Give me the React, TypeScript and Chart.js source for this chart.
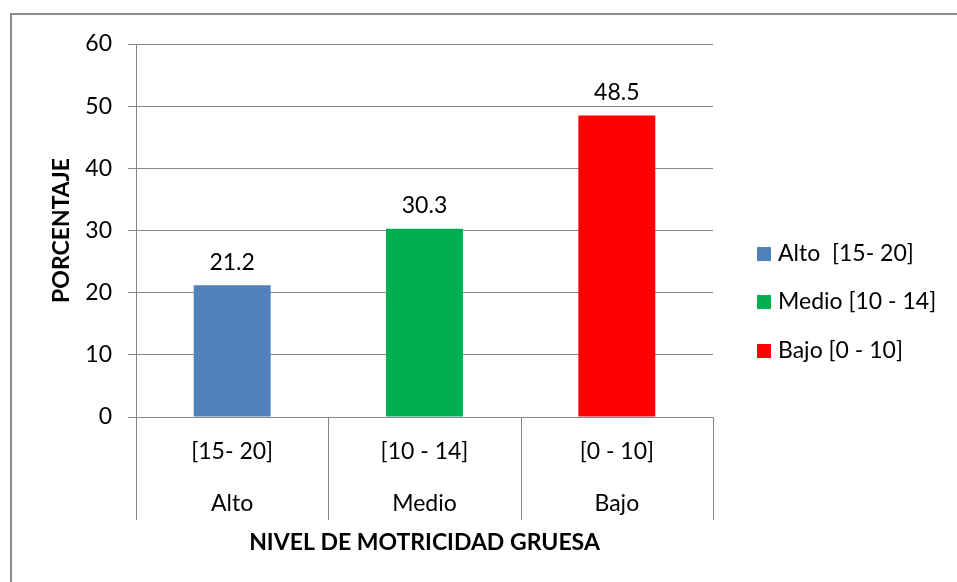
import React, { useEffect, useRef } from "react";
import { Chart, registerables } from "chart.js";
Chart.register(...registerables);

const categories = ["[15- 20]", "[10 - 14]", "[0 - 10]"];
const levels = ["Alto", "Medio", "Bajo"];
const values = [21.2, 30.3, 48.5];
const legendLabels = ["Alto  [15- 20]", "Medio [10 - 14]", "Bajo [0 - 10]"];
const colors = ["#4F81BD", "#00B050", "#FF0000"];
const yMin = 0;
const yMax = 60;
const yStep = 10;
const xTitle = "NIVEL DE MOTRICIDAD GRUESA";
const yTitle = "PORCENTAJE";

const FAMILY = "Lato, 'Open Sans', sans-serif";
const GRID = "#868686";
const FS = 23;

const customPlugin = {
  id: "custom",
  afterDraw(chart: any) {
    const ctx = chart.ctx;
    const x = chart.scales.x;
    const y = chart.scales.y;
    const y0 = y.getPixelForValue(0);
    ctx.save();
    // outer border
    ctx.strokeStyle = "#8c8c8c";
    ctx.lineWidth = 2;
    ctx.beginPath();
    ctx.moveTo(11, 582);
    ctx.lineTo(11, 14);
    ctx.lineTo(957, 14);
    ctx.stroke();
    // category separators
    ctx.strokeStyle = GRID;
    ctx.lineWidth = 1;
    const n = categories.length;
    const step = x.width / n;
    for (let i = 0; i <= n; i++) {
      const px = Math.round(x.left + i * step) + 0.5;
      ctx.beginPath();
      ctx.moveTo(px, y0);
      ctx.lineTo(px, y0 + 103);
      ctx.stroke();
    }
    // category labels
    ctx.fillStyle = "#000";
    ctx.font = `${FS}px ${FAMILY}`;
    ctx.textAlign = "center";
    ctx.textBaseline = "middle";
    for (let i = 0; i < n; i++) {
      const cx = x.getPixelForValue(i);
      ctx.fillText(categories[i], cx, y0 + 35);
      ctx.fillText(levels[i], cx, y0 + 87);
    }
    // x title
    ctx.font = `bold ${FS}px ${FAMILY}`;
    ctx.fillText(xTitle, (x.left + x.right) / 2, y0 + 126);
    // data labels
    ctx.font = `${FS}px ${FAMILY}`;
    const meta = chart.getDatasetMeta(0);
    meta.data.forEach((bar: any, i: number) => {
      ctx.fillText(values[i].toFixed(1), bar.x, bar.y - 23);
    });
    // legend
    const ly = [254, 302, 351];
    ctx.textAlign = "left";
    for (let i = 0; i < legendLabels.length; i++) {
      ctx.fillStyle = colors[i];
      ctx.fillRect(757, ly[i] - 7, 14, 14);
      ctx.fillStyle = "#000";
      ctx.fillText(legendLabels[i], 778, ly[i]);
    }
    ctx.restore();
  },
};

export default function App() {
  const ref = useRef<HTMLCanvasElement>(null);
  useEffect(() => {
    if (!ref.current) return;
    const chart = new Chart(ref.current, {
      type: "bar",
      data: {
        labels: categories,
        datasets: [
          {
            data: values,
            backgroundColor: colors,
            borderWidth: 0,
            barPercentage: 0.4,
            categoryPercentage: 1,
          },
        ],
      },
      options: {
        animation: false,
        responsive: false,
        devicePixelRatio: 1,
        layout: { padding: { left: 38, right: 244, top: 44, bottom: 165 } },
        plugins: { legend: { display: false }, tooltip: { enabled: false } },
        scales: {
          x: {
            ticks: { display: false },
            grid: { display: false },
            border: { display: false },
            afterFit: (s: any) => {
              s.height = 0;
            },
          },
          y: {
            min: yMin,
            max: yMax,
            ticks: {
              stepSize: yStep,
              padding: 16,
              color: "#000",
              font: { family: FAMILY, size: FS },
            },
            grid: { color: GRID, tickLength: 8, tickColor: GRID },
            border: { display: true, color: GRID },
            title: {
              display: true,
              text: yTitle,
              color: "#000",
              font: { family: FAMILY, size: FS, weight: "bold" },
              padding: { top: 10, bottom: 0 },
            },
            afterFit: (s: any) => {
              s.width = 98;
            },
          },
        },
      },
      plugins: [customPlugin],
    });
    return () => chart.destroy();
  }, []);
  return (
    <div style={{ position: "absolute", left: 0, top: 0, width: 957, height: 582, background: "#fff" }}>
      <canvas ref={ref} width={957} height={582} style={{ display: "block" }} />
    </div>
  );
}
